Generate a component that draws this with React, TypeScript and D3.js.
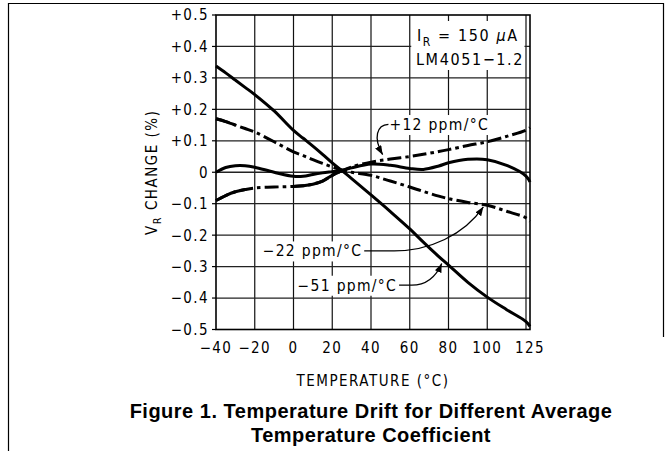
import * as d3 from 'd3';
import React, { useEffect, useRef } from 'react';

// page size
const W = 671;
const H = 451;
const FONT = "'DejaVu Sans Condensed', 'DejaVu Sans', sans-serif";
const TITLE_FONT = "'Liberation Sans', Arial, Helvetica, sans-serif";

// temperature samples (°C) shared by all four curves
const temps = [-40, -35, -30, -25, -20, -10, 0, 5, 10, 15, 20, 25, 30, 40, 50, 60, 67, 75, 80, 90, 100, 110, 120, 125];

// V_R change (%)
const driftM51 = [0.338, 0.316, 0.293, 0.27, 0.247, 0.195, 0.133, 0.108, 0.083, 0.057, 0.03, 0.005, -0.02, -0.072, -0.125, -0.18, -0.222, -0.268, -0.295, -0.35, -0.397, -0.437, -0.475, -0.49];
const driftM22 = [0.17, 0.161, 0.15, 0.139, 0.128, 0.097, 0.065, 0.053, 0.04, 0.028, 0.017, 0.007, 0.0, -0.01, -0.028, -0.047, -0.061, -0.076, -0.084, -0.096, -0.105, -0.124, -0.145, -0.156];
const driftP12 = [-0.09, -0.074, -0.062, -0.055, -0.05, -0.047, -0.045, -0.043, -0.038, -0.028, -0.01, 0.005, 0.017, 0.032, 0.042, 0.05, 0.057, 0.066, 0.072, 0.085, 0.097, 0.114, 0.134, 0.142];
const driftFlat = [0.0, 0.015, 0.021, 0.021, 0.016, 0.0, -0.013, -0.013, -0.007, -0.002, 0.002, 0.006, 0.014, 0.026, 0.022, 0.012, 0.009, 0.02, 0.03, 0.041, 0.04, 0.022, -0.012, -0.031];

const xTicks = [-40, -20, 0, 20, 40, 60, 80, 100, 125];
const xGrid = [-20, 0, 20, 40, 60, 80, 100, 120];
const yTicks = [0.5, 0.4, 0.3, 0.2, 0.1, 0, -0.1, -0.2, -0.3, -0.4, -0.5];
const yTickLabels = ['+0.5', '+0.4', '+0.3', '+0.2', '+0.1', '0', '\u22120.1', '\u22120.2', '\u22120.3', '\u22120.4', '\u22120.5'];

const DASH_DOT = '14 4 3.5 4';

const App: React.FC = () => {
  const svgRef = useRef<SVGSVGElement>(null);

  useEffect(() => {
    if (!svgRef.current) return;
    const svg = d3.select(svgRef.current);
    svg.selectAll('*').remove();

    // last grid column is narrower: 120 -> 125 squeezed in by the frame
    const x = d3.scaleLinear().domain([-40, 120, 125]).range([216, 526, 530]);
    const y = d3.scaleLinear().domain([-0.5, 0.5]).range([329.5, 15]);

    svg.append('rect').attr('width', W).attr('height', H).attr('fill', '#fff');

    svg.append('defs')
      .append('marker')
      .attr('id', 'arrow')
      .attr('markerUnits', 'userSpaceOnUse')
      .attr('markerWidth', 9)
      .attr('markerHeight', 7)
      .attr('refX', 9)
      .attr('refY', 3.5)
      .attr('orient', 'auto')
      .append('path')
      .attr('d', 'M0,0 L9,3.5 L0,7 Z')
      .attr('fill', '#000');

    // page border
    svg.append('path')
      .attr('d', 'M8.5,451 V3.5 H663.5 V337')
      .attr('fill', 'none')
      .attr('stroke', '#000')
      .attr('stroke-width', 1.2);

    // grid
    const grid = svg.append('g');
    grid.selectAll('.vg')
      .data(xGrid)
      .join('line')
      .attr('x1', d => x(d)).attr('x2', d => x(d))
      .attr('y1', y(0.5)).attr('y2', y(-0.5))
      .attr('stroke', '#111')
      .attr('stroke-width', 1.2);
    grid.selectAll('.hg')
      .data(yTicks.slice(1, -1))
      .join('line')
      .attr('x1', x(-40)).attr('x2', x(125))
      .attr('y1', d => y(d)).attr('y2', d => y(d))
      .attr('stroke', '#222')
      .attr('stroke-width', 1.3);

    // white knock-outs behind the labels, then curves, then text
    const knock = svg.append('g');
    const curves = svg.append('g');
    const labels = svg.append('g').attr('font-family', FONT).attr('fill', '#000');

    const drawCurve = (values: number[], dash: string | null, from = 0, to = temps.length) => {
      const line = d3.line<number>()
        .x(i => x(temps[i]))
        .y(i => y(values[i]))
        .curve(d3.curveCatmullRom.alpha(0.5));
      curves.append('path')
        .datum(d3.range(from, to))
        .attr('d', line)
        .attr('fill', 'none')
        .attr('stroke', '#000')
        .attr('stroke-width', 3)
        .attr('stroke-dasharray', dash);
    };

    drawCurve(driftFlat, null);
    drawCurve(driftP12, DASH_DOT);
    // the scan shows solid stretches on the dash-dot curves
    drawCurve(driftP12, null, 0, 4);
    drawCurve(driftP12, null, 6, 12);
    drawCurve(driftM22, DASH_DOT);
    drawCurve(driftM22, null, 0, 3);
    drawCurve(driftM51, null);

    // plot frame
    svg.append('rect')
      .attr('x', x(-40)).attr('y', y(0.5))
      .attr('width', x(125) - x(-40)).attr('height', y(-0.5) - y(0.5))
      .attr('fill', 'none')
      .attr('stroke', '#000')
      .attr('stroke-width', 1.6);

    // y ticks + labels
    labels.selectAll('.yt')
      .data(yTicks)
      .join('line')
      .attr('x1', x(-40) - 4).attr('x2', x(-40))
      .attr('y1', d => y(d)).attr('y2', d => y(d))
      .attr('stroke', '#000')
      .attr('stroke-width', 1.2);
    labels.selectAll('.yl')
      .data(yTicks)
      .join('text')
      .attr('x', x(-40) - 7)
      .attr('y', d => y(d))
      .attr('dy', '0.36em')
      .attr('text-anchor', 'end')
      .attr('font-size', 15)
      .attr('letter-spacing', 1.4)
      .text((_, i) => yTickLabels[i]);

    // x labels
    labels.selectAll('.xl')
      .data(xTicks)
      .join('text')
      .attr('x', d => x(d))
      .attr('y', 353)
      .attr('text-anchor', 'middle')
      .attr('font-size', 15)
      .attr('letter-spacing', 1.4)
      .text(d => (d < 0 ? '\u2212' + Math.abs(d) : String(d)));

    labels.append('text')
      .attr('x', 373)
      .attr('y', 386)
      .attr('text-anchor', 'middle')
      .attr('font-size', 15)
      .attr('letter-spacing', 1.5)
      .text('TEMPERATURE (\u00B0C)');

    const yt = labels.append('text')
      .attr('transform', `translate(152,${y(0)}) rotate(-90)`)
      .attr('text-anchor', 'middle')
      .attr('dy', '0.36em')
      .attr('font-size', 15)
      .attr('letter-spacing', 1.5);
    yt.append('tspan').text('V');
    yt.append('tspan').attr('dy', 4).attr('font-size', 11).text('R');
    yt.append('tspan').attr('dy', -4).text(' CHANGE (%)');

    // condition box
    knock.append('rect')
      .attr('x', x(60) + 1.5).attr('y', 21)
      .attr('width', x(120) - x(60) - 3).attr('height', 49)
      .attr('fill', '#fff');
    const c1 = labels.append('text')
      .attr('x', 417).attr('y', 41)
      .attr('font-size', 16)
      .attr('letter-spacing', 1.6);
    c1.append('tspan').text('I');
    c1.append('tspan').attr('dy', 5).attr('font-size', 12).text('R');
    c1.append('tspan').attr('dy', -5).text(' = 150 ');
    c1.append('tspan').attr('font-style', 'italic').text('\u00B5');
    c1.append('tspan').text('A');
    labels.append('text')
      .attr('x', 416).attr('y', 65)
      .attr('font-size', 16)
      .attr('letter-spacing', 1.6)
      .text('LM4051\u22121.2');

    // curve callouts
    const addCallout = (label: string, tx: number, ty: number, anchor: string) => {
      const t = labels.append('text')
        .attr('x', tx).attr('y', ty)
        .attr('dy', '0.36em')
        .attr('text-anchor', anchor)
        .attr('font-size', 15.5)
        .attr('letter-spacing', 1.3)
        .text(label);
      const b = (t.node() as SVGTextElement).getBBox();
      knock.append('rect')
        .attr('x', b.x - 2).attr('y', b.y - 1)
        .attr('width', b.width + 4).attr('height', b.height + 2)
        .attr('fill', '#fff');
    };
    addCallout('+12 ppm/\u00B0C', x(49.5), y(0.152), 'start');
    addCallout('\u221222 ppm/\u00B0C', x(35.5), y(-0.25), 'end');
    addCallout('\u221251 ppm/\u00B0C', x(53.5), y(-0.359), 'end');

    const leader = (p: d3.Path) => labels.append('path')
      .attr('d', p.toString())
      .attr('fill', 'none')
      .attr('stroke', '#000')
      .attr('stroke-width', 1.3)
      .attr('marker-end', 'url(#arrow)');

    const p12 = d3.path();
    p12.moveTo(x(49), y(0.152));
    p12.bezierCurveTo(x(43), y(0.15), x(41), y(0.11), x(46), y(0.056));
    leader(p12);

    const p22 = d3.path();
    p22.moveTo(x(36.5), y(-0.25));
    p22.lineTo(x(52), y(-0.25));
    p22.bezierCurveTo(x(70), y(-0.25), x(88), y(-0.2), x(98), y(-0.11));
    leader(p22);

    const p51 = d3.path();
    p51.moveTo(x(54.5), y(-0.359));
    p51.lineTo(x(61), y(-0.359));
    p51.bezierCurveTo(x(68), y(-0.359), x(73), y(-0.34), x(76.5), y(-0.29));
    leader(p51);

    // caption
    const cap = svg.append('g')
      .attr('font-family', TITLE_FONT)
      .attr('font-weight', 'bold')
      .attr('font-size', 20)
      .attr('letter-spacing', 0.5)
      .attr('text-anchor', 'middle');
    cap.append('text').attr('x', 371).attr('y', 418).text('Figure 1. Temperature Drift for Different Average');
    cap.append('text').attr('x', 371).attr('y', 442).text('Temperature Coefficient');
  }, []);

  return (
    <div style={{ position: 'fixed', left: 0, top: 0, width: W, height: H, background: '#fff' }}>
      <svg ref={svgRef} width={W} height={H} />
    </div>
  );
};

export default App;
